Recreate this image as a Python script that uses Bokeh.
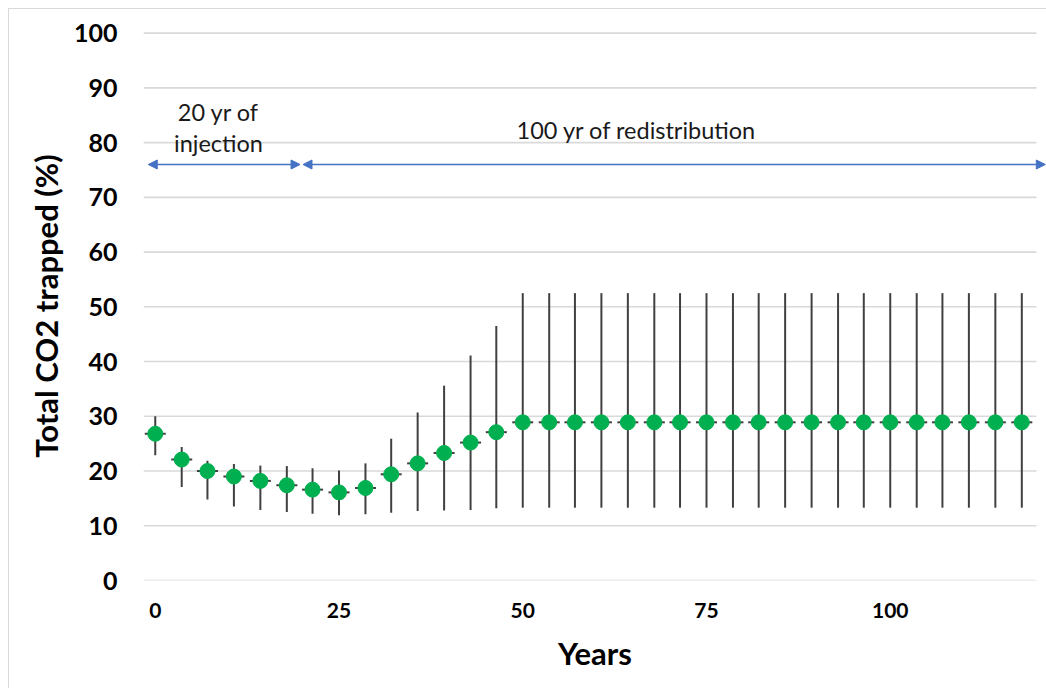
from bokeh.plotting import figure
from bokeh.models import (ColumnDataSource, Range1d, FixedTicker, Arrow,
                          NormalHead, Label, InlineStyleSheet)
from bokeh.embed import file_html
from bokeh.resources import INLINE

# Simulation output: total trapped CO2 (%) with min/max spread per output step
years = [0, 3.6, 7.1, 10.7, 14.3, 17.9, 21.4, 25, 28.6, 32.1, 35.7, 39.3,
         42.9, 46.4, 50, 53.6, 57.1, 60.7, 64.3, 67.9, 71.4, 75, 78.6, 82.1,
         85.7, 89.3, 92.9, 96.4, 100, 103.6, 107.1, 110.7, 114.3, 117.9]
trapped = [26.8, 22.1, 20.0, 19.0, 18.2, 17.4, 16.6, 16.1, 16.9, 19.4, 21.4,
           23.3, 25.2, 27.1, 28.9, 28.9, 28.9, 28.9, 28.9, 28.9, 28.9, 28.9,
           28.9, 28.9, 28.9, 28.9, 28.9, 28.9, 28.9, 28.9, 28.9, 28.9, 28.9,
           28.9]
trapped_low = [22.9, 17.1, 14.8, 13.5, 12.9, 12.5, 12.2, 11.9, 12.1, 12.4,
               12.7, 12.8, 12.9, 13.2, 13.3, 13.3, 13.3, 13.3, 13.3, 13.3,
               13.3, 13.3, 13.3, 13.3, 13.3, 13.3, 13.3, 13.3, 13.3, 13.3,
               13.3, 13.3, 13.3, 13.3]
trapped_high = [30.0, 24.4, 21.9, 21.3, 21.0, 20.9, 20.5, 20.1, 21.4, 25.9,
                30.7, 35.6, 41.1, 46.5, 52.5, 52.5, 52.5, 52.5, 52.5, 52.5,
                52.5, 52.5, 52.5, 52.5, 52.5, 52.5, 52.5, 52.5, 52.5, 52.5,
                52.5, 52.5, 52.5, 52.5]

x_ticks = [0, 25, 50, 75, 100]
y_ticks = [0, 10, 20, 30, 40, 50, 60, 70, 80, 90, 100]

# Phase annotations
injection_end = 20
total_years = 120

FONT = "Lato"
GREEN = "#00B050"
BAR = "#404040"
BLUE = "#4472C4"
GRID = "#d9d9d9"

X_START, GRID_END, X_END = -1.6, 119.9, 121.26

src = ColumnDataSource(dict(x=years, y=trapped, lo=trapped_low, hi=trapped_high))

# thin chart-area border along the top and left edges
border_css = InlineStyleSheet(css="""
:host::after {
  content: "";
  position: absolute;
  left: 8px; top: 8px; right: 0; bottom: 0;
  border-top: 1.5px solid #d9d9d9;
  border-left: 1.5px solid #d9d9d9;
  pointer-events: none;
  z-index: 5;
}
""")

p = figure(width=1046, height=688, output_backend="svg", toolbar_location=None,
           x_range=Range1d(X_START, X_END), y_range=Range1d(0, 100.3),
           min_border_left=143, min_border_right=0, min_border_top=31,
           min_border_bottom=108, stylesheets=[border_css])
p.outline_line_color = None
p.background_fill_color = "white"
p.border_fill_color = "white"

# horizontal grid lines, stopping short of the right edge
p.xgrid.grid_line_color = None
p.ygrid.grid_line_color = None
p.segment(x0=[X_START] * len(y_ticks), y0=y_ticks,
          x1=[GRID_END] * len(y_ticks), y1=y_ticks,
          line_color=GRID, line_width=1.6, level="underlay")

for ax in (p.xaxis, p.yaxis):
    ax.axis_line_color = None
    ax.major_tick_line_color = None
    ax.minor_tick_line_color = None
    ax.major_tick_out = 0
    ax.major_label_text_font = FONT
    ax.major_label_text_font_style = "bold"
    ax.major_label_text_color = "black"
    ax.axis_label_text_font = FONT
    ax.axis_label_text_font_style = "bold"
    ax.axis_label_text_color = "black"

p.xaxis.ticker = FixedTicker(ticks=x_ticks)
p.yaxis.ticker = FixedTicker(ticks=y_ticks)
p.yaxis.major_label_text_font_size = "25px"
p.xaxis.major_label_text_font_size = "21px"
p.yaxis.major_label_standoff = 26
p.xaxis.major_label_standoff = 22
p.yaxis.axis_label = "Total CO2 trapped (%)"
p.xaxis.axis_label = "Years"
p.yaxis.axis_label_text_font_size = "31px"
p.xaxis.axis_label_text_font_size = "31px"
p.yaxis.axis_label_standoff = 6
p.xaxis.axis_label_standoff = 13

# spread bars, marker dashes and mean markers
p.segment(x0="x", y0="lo", x1="x", y1="hi", source=src,
          line_color=BAR, line_width=2)
p.scatter(x="x", y="y", source=src, marker="dash", size=21,
          line_color=BAR, line_width=2)
p.scatter(x="x", y="y", source=src, marker="circle", size=15,
          fill_color=GREEN, line_color=GREEN)

# phase arrows
arrow_y = 76
for x0, x1 in [(-0.95, injection_end - 0.3), (injection_end + 0.1, total_years + 1.1)]:
    p.add_layout(Arrow(x_start=x0, y_start=arrow_y, x_end=x1, y_end=arrow_y,
                       line_color=BLUE, line_width=1.3,
                       start=NormalHead(size=9, fill_color=BLUE, line_color=BLUE),
                       end=NormalHead(size=9, fill_color=BLUE, line_color=BLUE)))

for txt, x, y in [("20 yr of", 8.6, 85.6), ("injection", 8.6, 79.9),
                  ("100 yr of redistribution", 65.5, 82.3)]:
    p.add_layout(Label(x=x, y=y, text=txt, text_align="center",
                       text_baseline="middle", text_font=FONT,
                       text_font_size="23.5px", text_color="#1a1a1a"))

open("out.html", "w").write(file_html(p, INLINE))
